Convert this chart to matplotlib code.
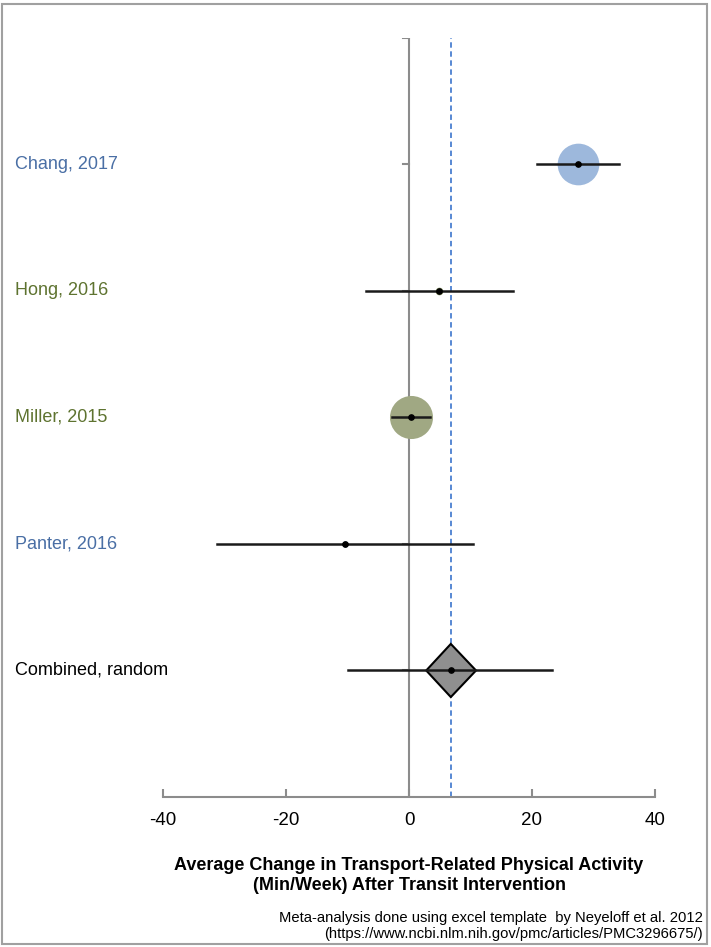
import matplotlib.pyplot as plt
from matplotlib.patches import Polygon, Rectangle

plt.rcParams['font.family'] = ['Liberation Sans', 'DejaVu Sans']

# study rows (top to bottom)
studies = ['Chang, 2017', 'Hong, 2016', 'Miller, 2015', 'Panter, 2016']
effect = [27.5, 4.9, 0.3, -10.4]
ci_low = [20.8, -7.0, -2.8, -31.2]
ci_high = [34.1, 16.9, 3.4, 10.4]
weight_size = [30, 5.5, 31, 4.5]   # marker size ~ study weight
label_colors = ['#4A6FA5', '#5E7330', '#5E7330', '#4A6FA5']
bubble_colors = ['#9DB8DC', '#8E9A6A', '#A0A883', '#4A6FA5']

combined_label = 'Combined, random'
combined_effect = 6.8
combined_pi = (-9.9, 23.3)      # outer whiskers
combined_ci = (2.8, 10.9)       # diamond width

ypos = [5, 4, 3, 2]
y_comb = 1

fig = plt.figure(figsize=(7.11, 9.47), dpi=100)
ax = fig.add_axes([0.2293, 0.1584, 0.6919, 0.8015])

grey = '#8C8C8C'
# vertical axis through zero
ax.plot([0, 0], [0, 6], color=grey, lw=1.5, zorder=1)
for y in range(1, 7):
    ax.plot([-0.9, 0], [y, y], color=grey, lw=1.5, zorder=1)

# pooled estimate dashed line
ax.axvline(combined_effect, color='#4A7FD0', lw=1.3, ls=(0, (3, 2)), zorder=2)

lab_x = -64.0
for i, s in enumerate(studies):
    y = ypos[i]
    ax.plot(effect[i], y, 'o', ms=weight_size[i], color=bubble_colors[i],
            mec='none', zorder=3)
    ax.plot([ci_low[i], ci_high[i]], [y, y], color='#1A1A1A', lw=1.8, zorder=4)
    ax.plot(effect[i], y, 'o', ms=3.8, color='black', zorder=5)
    ax.text(lab_x, y, s, color=label_colors[i], fontsize=13,
            va='center', ha='left')

ax.plot(list(combined_pi), [y_comb, y_comb], color='#1A1A1A', lw=1.8, zorder=4)
dh = 0.21
diamond = Polygon([(combined_ci[0], y_comb), (combined_effect, y_comb + dh),
                   (combined_ci[1], y_comb), (combined_effect, y_comb - dh)],
                  closed=True, facecolor='#8F8F8F', edgecolor='black', lw=1.5,
                  zorder=3)
ax.add_patch(diamond)
ax.plot(combined_effect, y_comb, 'o', ms=3.8, color='black', zorder=5)
ax.text(lab_x, y_comb, combined_label, color='black', fontsize=13,
        va='center', ha='left')

ax.set_xlim(-40, 40)
ax.set_ylim(0, 6)
ax.set_xticks([-40, -20, 0, 20, 40])
ax.set_xticklabels(['-40', '-20', '0', '20', '40'], fontsize=13.5)
ax.set_yticks([])
for sp in ['top', 'right', 'left']:
    ax.spines[sp].set_visible(False)
ax.spines['bottom'].set_color(grey)
ax.spines['bottom'].set_linewidth(1.5)
ax.tick_params(axis='x', direction='in', length=6, width=1.5, color=grey, pad=11)

ax.set_xlabel('Average Change in Transport-Related Physical Activity\n'
              '(Min/Week) After Transit Intervention',
              fontsize=13, fontweight='bold', labelpad=20, linespacing=1.25)

fig.text(0.988, 1 - 926 / 947,
         'Meta-analysis done using excel template  by Neyeloff et al. 2012\n'
         '(https://www.ncbi.nlm.nih.gov/pmc/articles/PMC3296675/)',
         ha='right', va='center', fontsize=10.6, linespacing=1.2)

fig.patches.append(Rectangle((0.003, 0.003), 0.991, 0.993, transform=fig.transFigure,
                             fill=False, edgecolor='#A0A0A0', lw=1.5))

fig.savefig('out.png', dpi=100)
